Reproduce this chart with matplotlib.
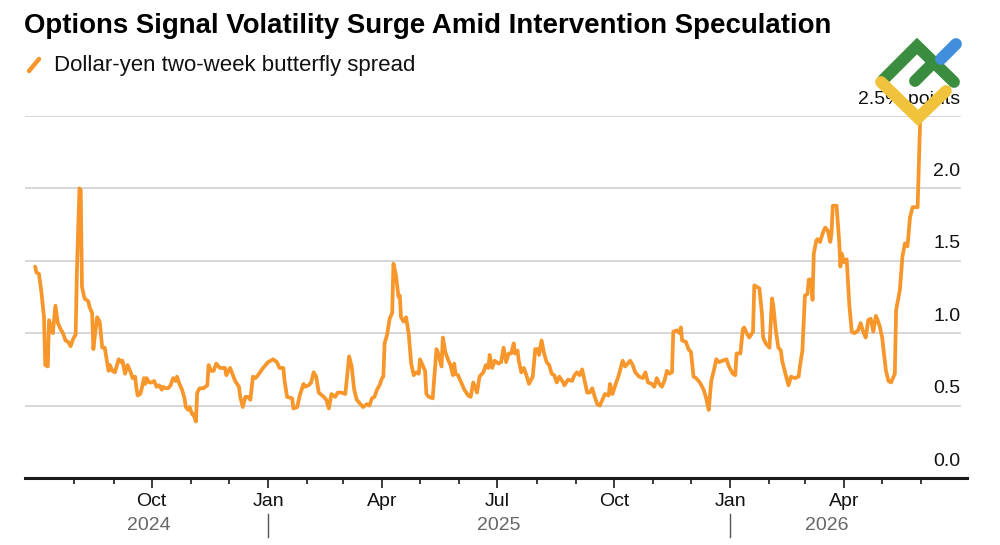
import matplotlib.pyplot as plt
import matplotlib.dates as mdates
from matplotlib.lines import Line2D
import pandas as pd

plt.rcParams['font.family'] = ['Liberation Sans', 'DejaVu Sans']

# Data: calendar-day offsets from start_date and spread
start_date = '2024-07-01'
day_offsets = [
    0, 1, 3, 5, 7, 8, 10, 11, 13, 14, 16, 18, 20, 22, 24, 26, 28, 30, 32, 33,
    35, 36, 37, 39, 42, 43, 45, 46, 47, 49, 51, 53, 55, 57, 58, 59, 61, 63,
    66, 68, 69, 71, 73, 75, 77, 79, 80, 81, 83, 84, 86, 87, 88, 90, 92, 94,
    96, 98, 100, 101, 103, 105, 107, 109, 111, 112, 114, 116, 118, 119, 121,
    122, 124, 125, 127, 128, 130, 133, 136, 137, 139, 141, 143, 146, 150,
    151, 154, 158, 161, 162, 164, 166, 168, 170, 172, 174, 176, 180, 184,
    188, 191, 193, 196, 197, 199, 203, 204, 207, 209, 212, 213, 216, 218,
    220, 222, 224, 228, 230, 232, 234, 237, 239, 242, 245, 248, 250, 252,
    254, 257, 259, 262, 264, 266, 268, 270, 272, 274, 275, 276, 278, 280,
    282, 283, 285, 287, 288, 289, 291, 293, 295, 297, 299, 301, 303, 304,
    306, 308, 309, 311, 314, 317, 318, 321, 322, 324, 326, 328, 330, 331,
    332, 334, 337, 339, 342, 344, 346, 349, 351, 354, 356, 358, 359, 361,
    363, 366, 368, 370, 372, 374, 376, 378, 379, 381, 382, 384, 386, 388,
    390, 393, 395, 397, 398, 400, 402, 404, 406, 408, 410, 412, 414, 417,
    418, 421, 424, 426, 428, 430, 432, 434, 436, 438, 440, 442, 444, 446,
    448, 450, 453, 454, 456, 459, 461, 464, 466, 468, 470, 472, 474, 477,
    480, 482, 484, 487, 489, 491, 493, 495, 497, 499, 501, 503, 504, 507,
    509, 510, 511, 514, 516, 518, 520, 522, 525, 528, 530, 532, 534, 536,
    538, 540, 543, 546, 548, 551, 553, 554, 557, 559, 560, 562, 564, 567,
    568, 570, 572, 574, 575, 577, 580, 582, 583, 585, 587, 589, 590, 592,
    595, 597, 600, 603, 604, 606, 608, 610, 611, 613, 614, 615, 617, 618,
    620, 622, 624, 626, 628, 629, 630, 633, 635, 636, 637, 639, 641, 643,
    645, 647, 650, 652, 654, 656, 658, 660, 662, 664, 665, 667, 669, 670,
    672, 674, 676, 679, 680, 683, 685, 687, 689, 691, 693, 697, 699]
spread = [
    1.46, 1.42, 1.41, 1.28, 1.11, 0.78, 0.77, 1.09, 1.03, 1.00, 1.19, 1.07,
    1.03, 1.00, 0.95, 0.94, 0.91, 0.96, 0.99, 1.43, 2.00, 1.99, 1.32, 1.24,
    1.22, 1.18, 1.14, 0.89, 0.97, 1.11, 1.08, 0.90, 0.90, 0.79, 0.74, 0.78,
    0.74, 0.73, 0.82, 0.80, 0.81, 0.72, 0.78, 0.74, 0.69, 0.70, 0.62, 0.57,
    0.58, 0.61, 0.69, 0.65, 0.69, 0.66, 0.66, 0.67, 0.63, 0.64, 0.61, 0.63,
    0.62, 0.62, 0.64, 0.69, 0.67, 0.70, 0.65, 0.61, 0.55, 0.49, 0.47, 0.49,
    0.44, 0.44, 0.39, 0.59, 0.62, 0.62, 0.64, 0.78, 0.74, 0.74, 0.79, 0.76,
    0.76, 0.71, 0.76, 0.67, 0.63, 0.56, 0.49, 0.56, 0.56, 0.54, 0.70, 0.69,
    0.71, 0.76, 0.80, 0.82, 0.80, 0.76, 0.76, 0.67, 0.56, 0.55, 0.48, 0.49,
    0.57, 0.65, 0.63, 0.64, 0.66, 0.73, 0.70, 0.59, 0.56, 0.54, 0.48, 0.58,
    0.56, 0.59, 0.59, 0.58, 0.84, 0.77, 0.61, 0.54, 0.51, 0.49, 0.51, 0.50,
    0.55, 0.56, 0.61, 0.64, 0.69, 0.70, 0.93, 0.99, 1.10, 1.14, 1.48, 1.40,
    1.25, 1.26, 1.11, 1.08, 1.11, 1.00, 0.79, 0.71, 0.73, 0.72, 0.82, 0.78,
    0.74, 0.58, 0.56, 0.55, 0.89, 0.87, 0.77, 0.97, 0.87, 0.82, 0.78, 0.71,
    0.79, 0.72, 0.71, 0.65, 0.61, 0.57, 0.56, 0.66, 0.59, 0.70, 0.73, 0.78,
    0.76, 0.85, 0.76, 0.81, 0.79, 0.80, 0.90, 0.80, 0.86, 0.86, 0.93, 0.86,
    0.88, 0.81, 0.73, 0.76, 0.71, 0.65, 0.70, 0.89, 0.89, 0.85, 0.95, 0.86,
    0.80, 0.78, 0.72, 0.71, 0.66, 0.70, 0.66, 0.64, 0.68, 0.67, 0.71, 0.73,
    0.71, 0.75, 0.67, 0.59, 0.59, 0.62, 0.56, 0.51, 0.50, 0.54, 0.58, 0.57,
    0.65, 0.58, 0.66, 0.71, 0.81, 0.77, 0.79, 0.81, 0.78, 0.73, 0.70, 0.69,
    0.73, 0.66, 0.65, 0.63, 0.69, 0.65, 0.63, 0.67, 0.74, 0.72, 0.73, 1.01,
    1.02, 1.00, 1.04, 0.95, 0.94, 0.89, 0.87, 0.70, 0.69, 0.66, 0.61, 0.55,
    0.47, 0.67, 0.74, 0.82, 0.80, 0.81, 0.82, 0.77, 0.72, 0.71, 0.86, 0.86,
    1.03, 1.04, 1.00, 0.97, 1.01, 1.33, 1.32, 1.31, 1.14, 0.97, 0.93, 0.90,
    1.24, 1.19, 1.02, 0.90, 0.88, 0.81, 0.74, 0.64, 0.70, 0.69, 0.70, 0.77,
    0.88, 1.26, 1.27, 1.37, 1.37, 1.23, 1.55, 1.64, 1.65, 1.63, 1.69, 1.73,
    1.71, 1.63, 1.69, 1.88, 1.88, 1.64, 1.46, 1.55, 1.49, 1.51, 1.20, 1.01,
    1.00, 1.02, 1.07, 1.01, 0.97, 1.09, 1.10, 1.01, 1.12, 1.10, 1.05, 0.97,
    0.89, 0.74, 0.67, 0.66, 0.72, 1.16, 1.30, 1.53, 1.62, 1.60, 1.80, 1.87,
    1.87, 2.47]

y_ticks = [0.0, 0.5, 1.0, 1.5, 2.0, 2.5]
y_tick_labels = ['0.0', '0.5', '1.0', '1.5', '2.0', '2.5% points']
month_names = {1: 'Jan', 4: 'Apr', 7: 'Jul', 10: 'Oct'}
title = 'Options Signal Volatility Surge Amid Intervention Speculation'
legend_label = 'Dollar-yen two-week butterfly spread'

ORANGE = '#F7962B'
GRID = '#cccccc'
W, H = 1000, 545


def fx(px):
    return px / W


def fy(py):
    return 1 - py / H


dates = pd.Timestamp(start_date) + pd.to_timedelta(day_offsets, unit='D')
xnum = mdates.date2num(dates)

fig = plt.figure(figsize=(10, 5.45), dpi=100)
ax = fig.add_axes([fx(25), fy(478), fx(942), (478 - 116) / H])

ax.plot(xnum, spread, color=ORANGE, lw=2.7, solid_joinstyle='round',
        solid_capstyle='round', clip_on=False, zorder=3)
ax.set_xlim(mdates.date2num(pd.Timestamp('2024-06-23')),
            mdates.date2num(pd.Timestamp('2026-07-07')))
ax.set_ylim(0, 2.5)

for s in ['top', 'left', 'right']:
    ax.spines[s].set_visible(False)
ax.spines['bottom'].set_linewidth(2.2)
ax.spines['bottom'].set_color('#1a1a1a')
ax.spines['bottom'].set_zorder(4)

# horizontal grid and right hand labels sitting on top of the lines
ax.set_yticks([])
ylab_trans = ax.get_yaxis_transform()
for v, lab in zip(y_ticks, y_tick_labels):
    if v > 0:
        ax.axhline(v, color=GRID, lw=1.1, xmax=0.993, zorder=1)
    ax.annotate(lab, xy=(0.993, v), xycoords=ylab_trans,
                xytext=(0, 17), textcoords='offset pixels',
                ha='right', va='center', fontsize=14, color='#111111')

# monthly ticks, quarterly labels
tick_dates = pd.date_range('2024-08-01', '2026-06-01', freq='MS')
major = [d for d in tick_dates if d.month in month_names]
minor = [d for d in tick_dates if d.month not in month_names]
ax.set_xticks(mdates.date2num(major))
ax.set_xticks(mdates.date2num(minor), minor=True)
ax.set_xticklabels([])
ax.tick_params(axis='x', which='major', length=7.5, width=1.2,
               color='#1a1a1a')
ax.tick_params(axis='x', which='minor', length=4, width=1.2,
               color='#1a1a1a')

xlab_trans = ax.get_xaxis_transform()
for d in major:
    ax.annotate(month_names[d.month], xy=(mdates.date2num(d), 0),
                xycoords=xlab_trans, xytext=(0, -24),
                textcoords='offset pixels', ha='center', va='center',
                fontsize=14, color='#111111')

# year labels centred on the data span of each year, separators at Jan
for yr in sorted(set(dates.year)):
    in_year = xnum[dates.year == yr]
    mid = (in_year[0] + in_year[-1]) / 2
    ax.annotate(str(yr), xy=(mid, 0), xycoords=xlab_trans,
                xytext=(0, -48), textcoords='offset pixels',
                ha='center', va='center', fontsize=14, color='#666666')
    if yr > dates[0].year:
        jan = mdates.date2num(pd.Timestamp(f'{yr}-01-01'))
        ax.plot([jan, jan], [-(514 - 478) / 362, -(537 - 478) / 362],
                transform=xlab_trans, color='#555555', lw=1, clip_on=False)

# title and legend
fig.text(fx(24), fy(26), title, fontsize=19.9, fontweight='bold',
         ha='left', va='center', color='#000000')
fig.add_artist(Line2D([fx(29), fx(39)], [fy(71), fy(59)], color=ORANGE,
                      lw=3.2, solid_capstyle='round',
                      transform=fig.transFigure))
fig.text(fx(54), fy(65), legend_label, fontsize=16, ha='left',
         va='center', color='#111111')

# watermark logo (top right)
logo = [
    ('#3a8c3f', [(883, 80), (917, 46), (954, 82)]),
    ('#3a8c3f', [(915, 81), (931, 65)]),
    ('#3f8fdc', [(941, 59), (956, 44)]),
    ('#f1c33d', [(881, 82), (918, 118), (946, 91)]),
]
for col, pts in logo:
    fig.add_artist(Line2D([fx(p[0]) for p in pts], [fy(p[1]) for p in pts],
                          color=col, lw=8.5, solid_capstyle='round',
                          solid_joinstyle='miter',
                          transform=fig.transFigure, zorder=10))

fig.savefig('out.png', dpi=100, facecolor='white')
